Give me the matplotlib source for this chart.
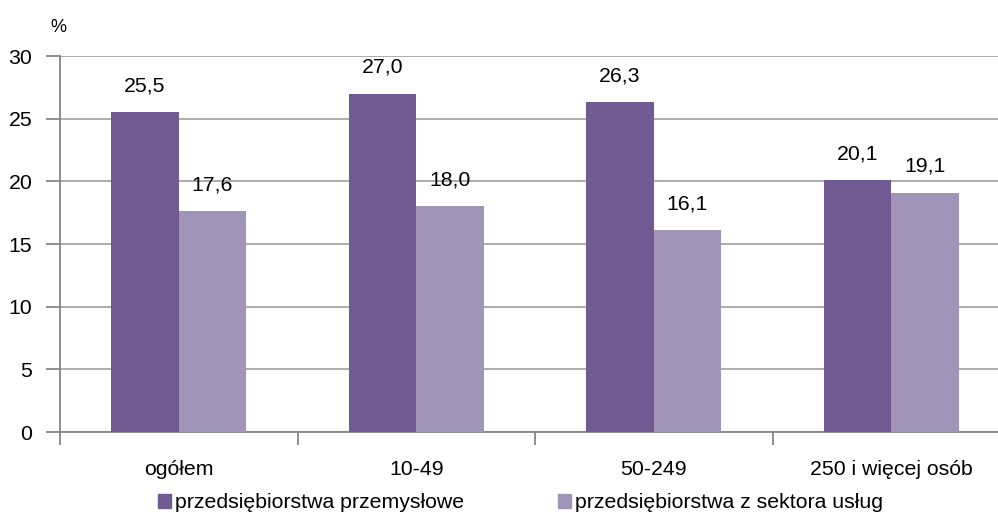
import matplotlib
matplotlib.use("Agg")
import matplotlib.pyplot as plt
import numpy as np
from matplotlib.patches import Patch

categories = ["ogółem", "10-49", "50-249", "250 i więcej osób"]
series_names = ["przedsiębiorstwa przemysłowe", "przedsiębiorstwa z sektora usług"]
industry = [25.5, 27.0, 26.3, 20.1]
services = [17.6, 18.0, 16.1, 19.1]
yticks = [0, 5, 10, 15, 20, 25, 30]

c_dark = "#6F5B91"
c_light = "#A095B8"
grid_c = "#A6A6A6"
axis_c = "#868686"

plt.rcParams['font.family'] = ['Liberation Sans', 'DejaVu Sans']
FS = 15.3

fig = plt.figure(figsize=(9.98, 5.15), dpi=100)
W, H = 998, 515
ax = fig.add_axes([60 / W, 1 - 432 / H, (1010 - 60) / W, (432 - 56) / H])

x = np.arange(len(categories))
bw = 0.284
b1 = ax.bar(x - bw / 2, industry, bw, color=c_dark, zorder=3)
b2 = ax.bar(x + bw / 2, services, bw, color=c_light, zorder=3)

def fmt(v):
    return f"{v:.1f}".replace(".", ",")

for bars, vals in ((b1, industry), (b2, services)):
    for r, v in zip(bars, vals):
        ax.annotate(fmt(v), (r.get_x() + r.get_width() / 2, v),
                    xytext=(0, 19), textcoords="offset points",
                    ha="center", va="center", fontsize=FS, color="black")

ax.set_xlim(-0.5, len(categories) - 0.5)
ax.set_ylim(0, 30)
ax.set_yticks(yticks)
ax.set_yticklabels([str(t) for t in yticks], fontsize=FS)
ax.yaxis.grid(True, color=grid_c, linewidth=1.3, zorder=0)
ax.set_axisbelow(True)

ax.set_xticks(x)
ax.set_xticklabels(categories, fontsize=FS)
ax.tick_params(axis="x", length=0, pad=20)
ax.set_xticks(np.arange(-0.5, len(categories)), minor=True)
ax.tick_params(axis="x", which="minor", length=9, color=axis_c, width=1.3)
ax.tick_params(axis="y", length=10, color=axis_c, width=1.3, pad=10)

for s in ("top", "right"):
    ax.spines[s].set_visible(False)
ax.spines["left"].set_color(axis_c)
ax.spines["bottom"].set_color(axis_c)
ax.spines["left"].set_linewidth(1.3)
ax.spines["bottom"].set_linewidth(1.3)

fig.text(58 / W, 1 - 27 / H, "%", fontsize=13, ha="center", va="center")

for name, col, lx in ((series_names[0], c_dark, 158), (series_names[1], c_light, 558)):
    fig.legend(handles=[Patch(color=col)], labels=[name], loc="center left",
               bbox_to_anchor=(lx / W, 1 - 503 / H), frameon=False, fontsize=FS,
               handlelength=0.6, handleheight=0.6, handletextpad=0.2,
               borderpad=0, borderaxespad=0)

fig.savefig("out.png", dpi=100)
